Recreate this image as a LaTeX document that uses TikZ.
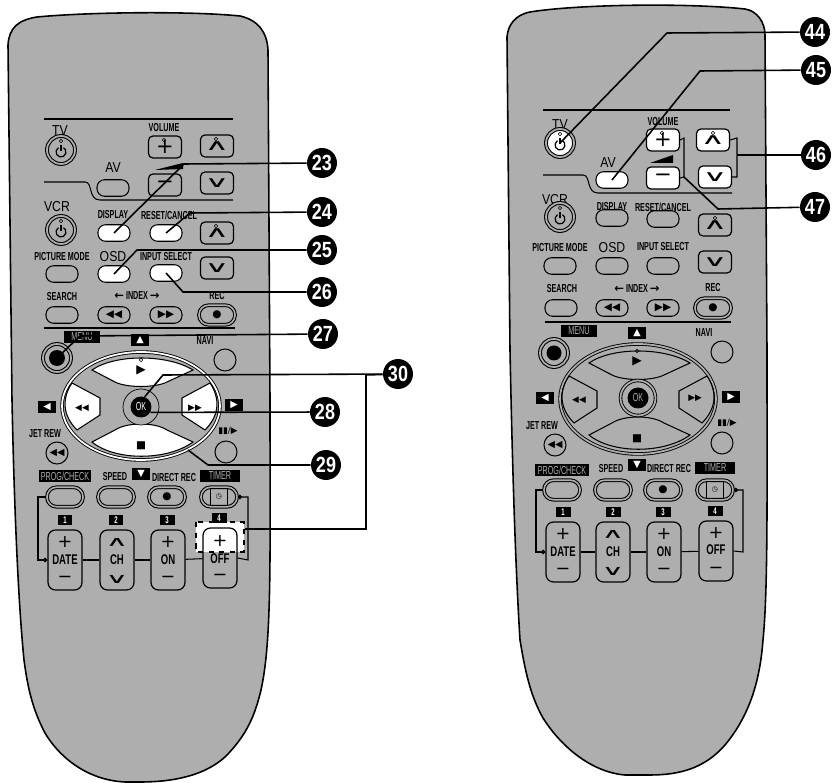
\documentclass[tikz,border=0pt]{standalone}
\usepackage{fontspec}
\usepackage{tikz}
\usetikzlibrary{shapes.geometric, arrows.meta}
\newfontfamily\keyfont[FakeStretch=0.62]{Liberation Sans}
\newfontfamily\bigfont[FakeStretch=0.85]{Liberation Sans}
\newfontfamily\padfont[FakeStretch=0.68]{Liberation Sans}
\newfontfamily\badgefont[FakeStretch=0.82]{Liberation Sans}
\newfontfamily\symfont{DejaVu Sans}
\definecolor{shell}{HTML}{AEAEAE}
\newcommand{\upmark}{\scalebox{1.6}[0.72]{∧}}
\newcommand{\downmark}{\scalebox{1.6}[0.72]{∨}}

\begin{document}
\begin{tikzpicture}[
    x=0.02cm, y=-0.02cm,
    keylabel/.style={font=\keyfont\bfseries\fontsize{6.6}{7}\selectfont, inner sep=0pt},
    biglabel/.style={font=\bigfont\fontsize{8.2}{9}\selectfont, inner sep=0pt},
    padlabel/.style={font=\padfont\bfseries\fontsize{8}{9}\selectfont, inner sep=0pt},
    tag/.style={rectangle, fill=black, text=shell, inner sep=0pt, minimum height=2.3mm,
                minimum width=#1, font=\keyfont\fontsize{6.6}{7}\selectfont},
    numtag/.style={rectangle, fill=black, text=white, inner sep=0pt, minimum height=2mm,
                   minimum width=3mm, font=\keyfont\bfseries\fontsize{5.5}{6}\selectfont},
    arrowtag/.style={rectangle, fill=black, text=white, inner sep=0pt, minimum height=2.4mm,
                     minimum width=3.6mm, font=\symfont\fontsize{5.5}{6}\selectfont},
    ovalkey/.style={rectangle, rounded corners=1.5mm, draw, fill=#1, line width=0.6pt,
                    minimum width=6.4mm, minimum height=3.3mm, inner sep=0pt,
                    font=\symfont\fontsize{6}{7}\selectfont},
    ovalkey/.default=shell,
    squarekey/.style={rectangle, rounded corners=0.9mm, draw, fill=#1, line width=0.7pt,
                      minimum width=6.6mm, minimum height=4.4mm, inner sep=0pt,
                      font=\symfont\fontsize{12}{12}\selectfont},
    squarekey/.default=shell,
    rowkey/.style={rectangle, rounded corners=1.9mm, draw, double=shell, double distance=0.9pt,
                   fill=shell, line width=0.6pt, minimum width=7.2mm, minimum height=3.9mm,
                   inner sep=0pt, font=\symfont\fontsize{6}{7}\selectfont},
    ringkey/.style={circle, draw, double=shell, double distance=1pt, fill=#1, line width=0.6pt,
                    minimum size=5.6mm, inner sep=0pt},
    ringkey/.default=shell,
    navkey/.style={circle, draw, fill=shell, line width=0.6pt, minimum size=4.4mm, inner sep=0pt},
    rocker/.style={rectangle, rounded corners=1.5mm, draw, line width=0.7pt,
                   minimum width=6.8mm, minimum height=12mm, inner sep=0pt},
    keyglyph/.style={font=\symfont\fontsize{#1}{#1}\selectfont, inner sep=0pt},
    keyglyph/.default=6,
    dimple/.style={circle, draw, line width=0.3pt, minimum size=0.7mm, inner sep=0pt},
    badge/.style={circle, fill=black, text=white, minimum size=6mm, inner sep=0pt,
                  font=\badgefont\bfseries\fontsize{12.5}{13}\selectfont},
    leader/.style={line width=0.9pt},
    bracket/.style={line width=0.6pt},
    dotted end/.style={bracket, -{Circle[length=2.6pt]}},
]
\useasboundingbox (0,0) rectangle (832,783);

% Left body
\draw[line width=0.9pt, fill=shell] (8,45) .. controls (9,28) and (18,20) .. (37,17)
    .. controls (90,12) and (190,11) .. (240,16) .. controls (258,20) and (267,32) .. (268,50)
    -- (270,400) .. controls (270,560) and (272,640) .. (261,690)
    .. controls (255,715) and (247,735) .. (225,757)
    .. controls (205,775) and (175,782) .. (140,782) -- (125,782)
    .. controls (85,780) and (58,755) .. (45,733)
    .. controls (33,710) and (28,690) .. (24,660)
    .. controls (18,600) and (14,500) .. (12,400) -- cycle;

% Right body
\draw[line width=0.9pt, fill=shell] (507,37) .. controls (508,25) and (515,15) .. (530,12)
    .. controls (580,4) and (690,3) .. (745,9) .. controls (757,11) and (765,22) .. (765,35)
    -- (767,350) .. controls (767,500) and (768,590) .. (763,640)
    .. controls (760,680) and (750,715) .. (725,745)
    .. controls (705,768) and (680,775) .. (650,775) -- (625,775)
    .. controls (590,772) and (560,745) .. (543,718)
    .. controls (530,695) and (525,670) .. (520,640)
    .. controls (515,560) and (512,450) .. (510,350) -- cycle;

% Left divider lines
\draw[bracket] (44,119) -- (233,119);
\draw[bracket] (44,182) -- (85,182) .. controls (93,182) and (88,200) .. (100,200) -- (233,200);
\draw[bracket] (44,328) -- (235,328);

% Left TV block
\node[biglabel] (lab_tv_l) at (60,131) {TV};
\node[ringkey] (tv_l) at (61,150) {};
\node[dimple] (tv_dot_l) at (61,141) {};
\draw[line width=0.7pt] (61,145) -- (61,151);
\draw[line width=0.7pt] (58.5,147.7) arc[start angle=120, end angle=420, radius=1mm];
\node[keylabel] (lab_vol_l) at (164,128) {VOLUME};
\node[squarekey] (plus_l) at (165,147) {+};
\node[dimple] (plus_dot_l) at (164,140) {};
\node[squarekey] (up_l) at (217,146) {\upmark};
\node[dimple] (up_dot_l) at (216,139) {};
\node[biglabel] (lab_av_l) at (113,168) {AV};
\node[ovalkey] (av_l) at (113,188) {};
\fill (155,170) -- (183,163) -- (183,169) -- cycle;
\node[squarekey] (minus_l) at (165,185) {−};
\node[squarekey] (down_l) at (217,183) {\downmark};

% Left VCR block
\node[biglabel] (lab_vcr_l) at (57,207) {VCR};
\node[ringkey] (vcr_l) at (61,230) {};
\node[dimple] (vcr_dot_l) at (61,221) {};
\draw[line width=0.7pt] (61,225) -- (61,231);
\draw[line width=0.7pt] (58.5,227.7) arc[start angle=120, end angle=420, radius=1mm];
\node[keylabel] (lab_disp_l) at (113,215) {DISPLAY};
\node[ovalkey=white] (disp_l) at (114,233) {};
\node[keylabel] (lab_reset_l) at (169,215) {RESET/CANCEL};
\node[ovalkey=white] (reset_l) at (166,233) {};
\node[squarekey] (up2_l) at (217,233) {\upmark};
\node[dimple] (up2_dot_l) at (216,226) {};
\node[keylabel] (lab_pic_l) at (62,257) {PICTURE MODE};
\node[ovalkey] (pic_l) at (62,274) {};
\node[biglabel] (lab_osd_l) at (113,257) {OSD};
\node[ovalkey=white] (osd_l) at (114,274) {};
\node[keylabel] (lab_input_l) at (166,257) {INPUT SELECT};
\node[ovalkey=white] (input_l) at (166,273) {};
\node[squarekey] (down2_l) at (217,268) {\downmark};
\node[keylabel] (lab_search_l) at (62,297) {SEARCH};
\node[ovalkey] (search_l) at (62,315) {};
\node[keylabel] (lab_index_l) at (137,296) {{\symfont ←}\ INDEX\ {\symfont →}};
\node[ovalkey] (prev_l) at (114,315) {◀◀};
\node[ovalkey] (next_l) at (166,315) {▶▶};
\node[keylabel] (lab_rec_l) at (217,296) {REC};
\node[rowkey] (rec_l) at (217,315) {●};

% Left menu row
\node[tag=7.2mm] (lab_menu_l) at (82,337) {MENU};
\node[arrowtag] (tag_up_l) at (140,340) {▲};
\node[keylabel] (lab_navi_l) at (205,341) {NAVI};
\node[ringkey] (menu_l) at (57,358) {};
\node[circle, fill=black, minimum size=3.2mm, inner sep=0pt] (menu_dot_l) at (57,358) {};
\node[navkey] (navi_l) at (225,360) {};

% Left pad
\node[ellipse, draw, double=white, double distance=1pt, fill=shell, line width=0.5pt,
      minimum width=31.6mm, minimum height=21.6mm, inner sep=0pt] (pad_l) at (141,406) {};
\draw[line width=0.6pt, fill=white] (92,370) .. controls (115,354) and (167,354) .. (193,370)
    -- (167,382) .. controls (155,388) and (127,388) .. (115,382) -- cycle;
\draw[line width=0.6pt, fill=white] (92,442) .. controls (115,461) and (167,461) .. (193,442)
    -- (167,430) .. controls (155,422) and (127,422) .. (115,430) -- cycle;
\draw[line width=0.6pt, fill=white] (72,383) -- (100,398) -- (100,415) -- (77,430)
    .. controls (62,415) and (62,398) .. (72,383) -- cycle;
\draw[line width=0.6pt, fill=white] (210,383) -- (182,398) -- (182,415) -- (205,430)
    .. controls (220,415) and (220,398) .. (210,383) -- cycle;
\node[dimple] (play_dot_l) at (141,360) {};
\node[keyglyph=7] (play_l) at (141,370) {▶};
\node[keyglyph=5] (rew_l) at (82,408) {◀◀};
\node[keyglyph=5] (ff_l) at (195,408) {▶▶};
\node[keyglyph=6] (stop_l) at (141,446) {■};
\coordinate (stop_edge_l) at (188,450);
\node[circle, draw, fill=shell, line width=0.4pt, minimum size=7.2mm, inner sep=0pt] (okring_l) at (141,407) {};
\node[circle, fill=black, text=white, minimum size=4.2mm, inner sep=0pt,
      font=\keyfont\fontsize{6.6}{7}\selectfont] (ok_l) at (141,407) {OK};

% Left keys around the pad
\node[arrowtag] (tag_left_l) at (47,407) {◀};
\node[arrowtag] (tag_right_l) at (234,405) {▶};
\node[keylabel] (lab_jet_l) at (45,434) {JET REW};
\node[navkey, font=\symfont\fontsize{5.5}{6}\selectfont] (jet_l) at (57,453) {◀◀};
\node[keylabel, font=\symfont\fontsize{5}{6}\selectfont] (lab_pause_l) at (228,431) {▮▮/▶};
\node[navkey] (pause_l) at (226,452) {};

% Left timer row
\node[arrowtag] (tag_down_l) at (141,474) {▼};
\node[tag=10.6mm] (lab_prog_l) at (65,476) {PROG/CHECK};
\node[keylabel] (lab_speed_l) at (115,477) {SPEED};
\node[keylabel] (lab_direct_l) at (174,478) {DIRECT REC};
\node[tag=8mm] (lab_timer_l) at (220,476) {TIMER};
\node[rowkey] (prog_l) at (65,497) {};
\node[rowkey] (speed_l) at (116,497) {};
\node[rowkey] (direct_l) at (167,497) {●};
\node[rowkey] (timer_l) at (219,497) {\fbox{\fontsize{4}{4}\selectfont ◷}};

% Left rockers
\node[rectangle, draw=white, fill=white, minimum width=9.4mm, minimum height=5.8mm,
      inner sep=0pt] (lit_l) at (220,537) {};
\draw[dashed, line width=0.9pt] (lit_l.north west) rectangle (lit_l.south east);
\coordinate (lit_tap_l) at (245,529);
\node[numtag] (num1_l) at (65,520) {1};
\node[numtag] (num2_l) at (116,520) {2};
\node[numtag] (num3_l) at (167,520) {3};
\node[numtag] (num4_l) at (219,518) {4};
\node[rocker] (date_l) at (65,560) {};
\node[rocker] (ch_l) at (117,560) {};
\node[rocker] (on_l) at (168,560) {};
\node[rocker] (off_l) at (220,558) {};
\node[padlabel] (lab_date_l) at (65,560) {DATE};
\node[padlabel] (lab_ch_l) at (117,560) {CH};
\node[padlabel] (lab_on_l) at (168,560) {ON};
\node[padlabel] (lab_off_l) at (220,559) {OFF};
\node[keyglyph=10] (date_p_l) at (65,542) {+};
\node[keyglyph=10] (date_m_l) at (65,579) {−};
\node[keyglyph=11] (ch_p_l) at (117,542) {\upmark};
\node[keyglyph=11] (ch_m_l) at (117,579) {\downmark};
\node[keyglyph=10] (on_p_l) at (168,542) {+};
\node[keyglyph=10] (on_m_l) at (168,579) {−};
\node[keyglyph=10] (off_p_l) at (220,541) {+};
\node[keyglyph=10] (off_m_l) at (220,577) {−};
\draw[bracket] (date_l) -- (ch_l);
\draw[bracket] (ch_l) -- (on_l);
\draw[bracket] (on_l) -- (off_l);
\draw[dotted end] (prog_l.west) -- (38,497) -- (38,560) -- (date_l.west);
\draw[dotted end] (off_l.east) -- (248,560) -- (248,497) -- (timer_l.east);

% Left badges
\node[badge] (n23) at (322,163) {23};
\node[badge] (n24) at (322,212) {24};
\node[badge] (n25) at (322,250) {25};
\node[badge] (n26) at (322,292) {26};
\node[badge] (n27) at (323,334) {27};
\node[badge] (n30) at (398,374) {30};
\node[badge] (n28) at (325,412) {28};
\node[badge] (n29) at (326,465) {29};

% Left leaders
\draw[leader] (n23) -- (184,164) -- (disp_l.center);
\draw[leader] (n24) -- (190,213) -- (reset_l.center);
\draw[leader] (n25) -- (137,250) -- (osd_l.center);
\draw[leader] (n26) -- (183,292) -- (input_l.center);
\draw[leader] (n27) -- (80,336) -- (menu_dot_l.center);
\draw[leader] (n28) -- (ok_l.-30);
\draw[leader] (n29) -- (208,465) -- (stop_edge_l);
\draw[leader] (n30) -- (163,375) -- (ok_l.70);
\draw[leader] (n30) -- (366,375) -- (366,529) -- (lit_tap_l);

% Right divider lines
\draw[bracket] (543,110) -- (730,110);
\draw[bracket] (543,175) -- (583,175) .. controls (591,175) and (586,193) .. (598,193) -- (732,193);
\draw[bracket] (545,322) -- (731,322);

% Right TV block
\node[biglabel] (lab_tv_r) at (560,125) {TV};
\node[ringkey=white] (tv_r) at (560,143) {};
\node[dimple] (tv_dot_r) at (560,134) {};
\draw[line width=0.7pt] (560,138) -- (560,144);
\draw[line width=0.7pt] (557.5,140.7) arc[start angle=120, end angle=420, radius=1mm];
\node[keylabel] (lab_vol_r) at (663,122) {VOLUME};
\node[squarekey=white] (plus_r) at (663,140) {+};
\node[dimple] (plus_dot_r) at (662,133) {};
\node[squarekey=white] (up_r) at (713,140) {\upmark};
\node[dimple] (up_dot_r) at (713,133) {};
\node[biglabel] (lab_av_r) at (608,163) {AV};
\node[ovalkey=white] (av_r) at (612,180) {};
\fill (650,163) -- (673,155) -- (673,163) -- cycle;
\node[squarekey=white] (minus_r) at (663,178) {−};
\node[squarekey=white] (down_r) at (715,177) {\downmark};

% Right VCR block
\node[biglabel] (lab_vcr_r) at (555,200) {VCR};
\node[ringkey] (vcr_r) at (560,217) {};
\node[dimple] (vcr_dot_r) at (560,208) {};
\draw[line width=0.7pt] (560,212) -- (560,218);
\draw[line width=0.7pt] (557.5,214.7) arc[start angle=120, end angle=420, radius=1mm];
\node[keylabel] (lab_disp_r) at (612,207) {DISPLAY};
\node[ovalkey] (disp_r) at (612,218) {};
\node[keylabel] (lab_reset_r) at (663,207) {RESET/CANCEL};
\node[ovalkey] (reset_r) at (663,219) {};
\node[squarekey] (up2_r) at (715,225) {\upmark};
\node[dimple] (up2_dot_r) at (715,218) {};
\node[keylabel] (lab_pic_r) at (560,248) {PICTURE MODE};
\node[ovalkey] (pic_r) at (560,266) {};
\node[biglabel] (lab_osd_r) at (612,248) {OSD};
\node[ovalkey] (osd_r) at (612,266) {};
\node[keylabel] (lab_input_r) at (663,247) {INPUT SELECT};
\node[ovalkey] (input_r) at (663,266) {};
\node[squarekey] (down2_r) at (715,262) {\downmark};
\node[keylabel] (lab_search_r) at (562,289) {SEARCH};
\node[ovalkey] (search_r) at (561,308) {};
\node[keylabel] (lab_index_r) at (637,289) {{\symfont ←}\ INDEX\ {\symfont →}};
\node[ovalkey] (prev_r) at (612,308) {◀◀};
\node[ovalkey] (next_r) at (663,308) {▶▶};
\node[keylabel] (lab_rec_r) at (713,288) {REC};
\node[rowkey] (rec_r) at (713,308) {●};

% Right menu row
\node[tag=7.2mm] (lab_menu_r) at (579,331) {MENU};
\node[arrowtag] (tag_up_r) at (637,333) {▲};
\node[keylabel] (lab_navi_r) at (704,333) {NAVI};
\node[ringkey] (menu_r) at (554,353) {};
\node[circle, fill=black, minimum size=3mm, inner sep=0pt] (menu_dot_r) at (554,353) {};
\node[navkey] (navi_r) at (722,352) {};

% Right pad
\node[ellipse, draw, double=shell, double distance=1pt, fill=shell, line width=0.5pt,
      minimum width=31.2mm, minimum height=22mm, inner sep=0pt] (pad_r) at (638,399) {};
\draw[line width=0.6pt] (589,363) .. controls (612,347) and (664,347) .. (690,363)
    -- (664,375) .. controls (652,381) and (624,381) .. (612,375) -- cycle;
\draw[line width=0.6pt] (589,435) .. controls (612,454) and (664,454) .. (690,435)
    -- (664,423) .. controls (652,415) and (624,415) .. (612,423) -- cycle;
\draw[line width=0.6pt] (569,376) -- (597,391) -- (597,408) -- (574,423)
    .. controls (559,408) and (559,391) .. (569,376) -- cycle;
\draw[line width=0.6pt] (707,376) -- (679,391) -- (679,408) -- (702,423)
    .. controls (717,408) and (717,391) .. (707,376) -- cycle;
\node[dimple] (play_dot_r) at (637,351) {};
\node[keyglyph=7] (play_r) at (637,361) {▶};
\node[keyglyph=5] (rew_r) at (579,400) {◀◀};
\node[keyglyph=5] (ff_r) at (695,398) {▶▶};
\node[keyglyph=6] (stop_r) at (637,439) {■};
\node[circle, draw, double=shell, double distance=1pt, fill=shell, line width=0.5pt, minimum size=7mm,
      inner sep=0pt] (okring_r) at (638,398) {};
\node[circle, fill=black, text=shell, minimum size=4.2mm, inner sep=0pt,
      font=\keyfont\fontsize{6.6}{7}\selectfont] (ok_r) at (638,398) {OK};

% Right keys around the pad
\node[arrowtag] (tag_left_r) at (545,398) {◀};
\node[arrowtag] (tag_right_r) at (731,397) {▶};
\node[keylabel] (lab_jet_r) at (542,426) {JET REW};
\node[navkey, font=\symfont\fontsize{5.5}{6}\selectfont] (jet_r) at (555,445) {◀◀};
\node[keylabel, font=\symfont\fontsize{5}{6}\selectfont] (lab_pause_r) at (727,423) {▮▮/▶};
\node[navkey] (pause_r) at (722,443) {};

% Right timer row
\node[arrowtag] (tag_down_r) at (637,465) {▼};
\node[tag=10.8mm] (lab_prog_r) at (562,470) {PROG/CHECK};
\node[keylabel] (lab_speed_r) at (611,469) {SPEED};
\node[keylabel] (lab_direct_r) at (669,469) {DIRECT REC};
\node[tag=8mm] (lab_timer_r) at (715,468) {TIMER};
\node[rowkey] (prog_r) at (562,490) {};
\node[rowkey] (speed_r) at (613,490) {};
\node[rowkey] (direct_r) at (663,490) {●};
\node[rowkey] (timer_r) at (715,490) {\fbox{\fontsize{4}{4}\selectfont ◷}};
\node[numtag] (num1_r) at (563,512) {1};
\node[numtag] (num2_r) at (613,512) {2};
\node[numtag] (num3_r) at (663,512) {3};
\node[numtag] (num4_r) at (715,511) {4};

% Right rockers
\node[rocker] (date_r) at (563,552) {};
\node[rocker] (ch_r) at (613,552) {};
\node[rocker] (on_r) at (664,552) {};
\node[rocker] (off_r) at (716,551) {};
\node[padlabel] (lab_date_r) at (563,552) {DATE};
\node[padlabel] (lab_ch_r) at (613,552) {CH};
\node[padlabel] (lab_on_r) at (664,552) {ON};
\node[padlabel] (lab_off_r) at (716,550) {OFF};
\node[keyglyph=10] (date_p_r) at (563,534) {+};
\node[keyglyph=10] (date_m_r) at (563,571) {−};
\node[keyglyph=11] (ch_p_r) at (613,534) {\upmark};
\node[keyglyph=11] (ch_m_r) at (613,571) {\downmark};
\node[keyglyph=10] (on_p_r) at (664,534) {+};
\node[keyglyph=10] (on_m_r) at (664,571) {−};
\node[keyglyph=10] (off_p_r) at (716,533) {+};
\node[keyglyph=10] (off_m_r) at (716,570) {−};
\draw[bracket] (date_r) -- (ch_r);
\draw[bracket] (ch_r) -- (on_r);
\draw[bracket] (on_r) -- (off_r);
\draw[dotted end] (prog_r.west) -- (536,490) -- (536,552) -- (date_r.west);
\draw[dotted end] (off_r.east) -- (743,552) -- (743,490) -- (timer_r.east);

% Right badges
\node[badge] (n44) at (815,32) {44};
\node[badge] (n45) at (816,70) {45};
\node[badge] (n46) at (816,155) {46};
\node[badge] (n47) at (815,207) {47};

% Right leaders
\draw[leader] (n44) -- (667,33) -- (tv_r.center);
\draw[leader] (n45) -- (700,71) -- (av_r.center);
\draw[leader] (n46) -- (737,155);
\draw[bracket] (up_r.east) -- (737,138) -- (737,177) -- (down_r.east);
\draw[bracket] (plus_r.east) -- (684,138) -- (684,177) -- (minus_r.east);
\draw[leader] (n47) -- (718,209) -- (684,177);

\end{tikzpicture}
\end{document}
